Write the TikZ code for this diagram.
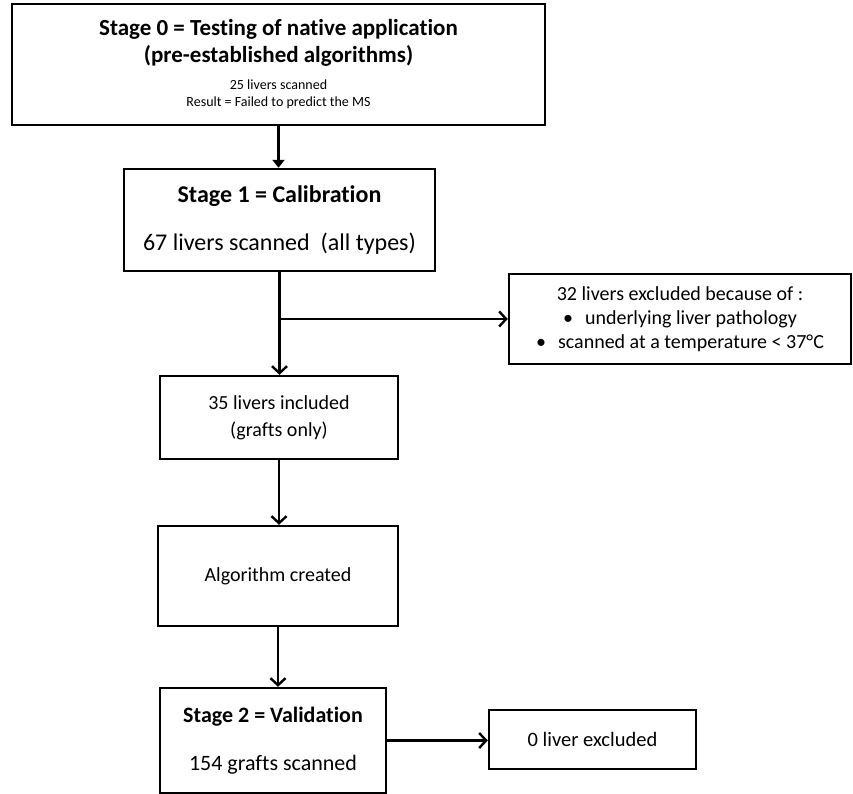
\documentclass[tikz,border=0pt]{standalone}
\usepackage{fontspec}
\setmainfont{Carlito}[Ligatures={NoCommon}]
\usetikzlibrary{arrows.meta,positioning}
\tikzset{
  basic/.style  = {draw, line width=2.4pt, align=flush center, inner sep=0pt, font=\fontsize{20}{24}\selectfont},
  stagebox/.style = {basic, font=\fontsize{24}{29}\selectfont},
  flow/.style = {line width=2.4pt, -{Straight Barb[length=7pt,width=15pt]}},
  flowtri/.style = {line width=2.4pt, -{Triangle[length=8pt,width=12pt]}}
}

\begin{document}
\begin{tikzpicture}[x=1pt,y=-1pt]
\useasboundingbox (0,0) rectangle (853,794);
% stages and steps
\node[stagebox, font=\fontsize{23}{27}\selectfont, text width=520pt, minimum width=533pt, minimum height=121pt] (s0) at (278.5,64.5)
  {\textbf{Stage 0 = Testing of native application}\\ \textbf{(pre-established algorithms)}\\
   {\fontsize{14}{17}\selectfont 25 livers scanned}\\[-10pt] {\fontsize{14}{17}\selectfont Result = Failed to predict the MS}};
\node[stagebox, text width=300pt, minimum width=311pt, minimum height=102pt] (s1) at (279.5,220)
  {\textbf{Stage 1 = Calibration}\\[19pt] 67 livers scanned~~(all types)};
\node[basic, text width=330pt, minimum width=342pt, minimum height=90pt] (excl) at (680,319)
  {32 livers excluded because of :\\ •\hspace{12pt}underlying liver pathology\\ •\hspace{12pt}scanned at a temperature < 37°C};
\node[basic, font=\fontsize{20}{27}\selectfont, text width=230pt, minimum width=238pt, minimum height=83pt] (incl) at (279,417.5)
  {35 livers included\\ (grafts only)};
\node[basic, text width=230pt, minimum width=240pt, minimum height=100pt] (algo) at (278,576) {Algorithm created};
\node[stagebox, font=\fontsize{22}{26}\selectfont, text width=215pt, minimum width=226pt, minimum height=105pt] (s2) at (273,740.5)
  {\textbf{Stage 2 = Validation}\\[22pt] 154 grafts scanned};
\node[basic, font=\fontsize{20.5}{24}\selectfont, text width=200pt, minimum width=207pt, minimum height=59pt] (none) at (592.5,739.5) {0 liver excluded};
% connectors
\draw[flowtri] (s0.south) -- (s0.south |- s1.north);
\coordinate (split) at (s1.south |- excl.west);
\draw[flow] (s1.south) -- (s1.south |- incl.north);
\draw[flow] (split) -- (excl.west);
\draw[flow] (incl.south) -- (incl.south |- algo.north);
\draw[flow] (algo.south) -- (algo.south |- s2.north);
\draw[flow] (s2.east) -- (s2.east -| none.west);
\end{tikzpicture}
\end{document}
